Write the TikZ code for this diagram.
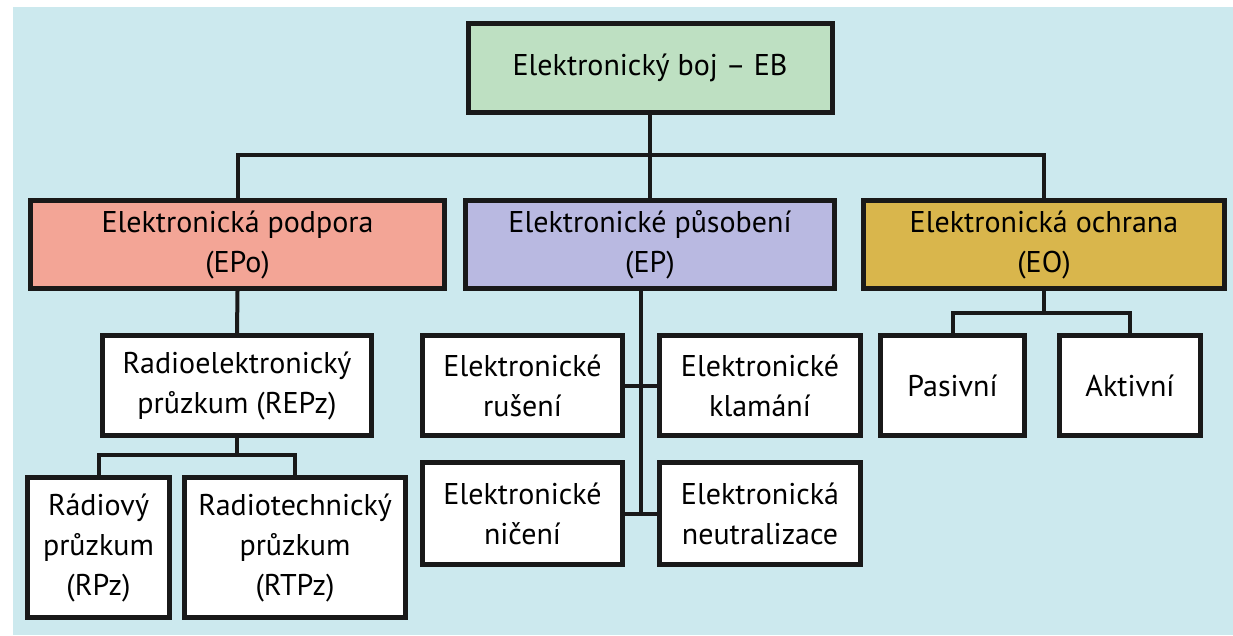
\documentclass[tikz,border=0pt]{standalone}
\usepackage{fontspec}
\setmainfont{PT Sans}
\usepackage{xcolor}
\usepackage{tikz}
\usetikzlibrary{calc}

\definecolor{bgblue}{HTML}{CCE9EE}
\definecolor{ebgreen}{HTML}{BEE0C2}
\definecolor{eposalmon}{HTML}{F3A596}
\definecolor{eplav}{HTML}{B9B9E1}
\definecolor{eogold}{HTML}{D9B64C}

\tikzset{
	box/.style={draw=black!90, line width=5pt, fill=white, align=center,
		inner sep=0pt, font=\fontsize{30}{40}\selectfont},
	link/.style={draw=black!90, line width=4pt}
}

\begin{document}
\begin{tikzpicture}[x=1pt,y=-1pt]
	 \useasboundingbox (0,0) rectangle (1233,635);
	 \fill[bgblue] (13,7) rectangle (1233,635);
	 % top
	 \node (eb) [box, fill=ebgreen, minimum width=364pt, minimum height=89pt] at (650,68) {Elektronický boj -- EB};
	 % second row
	 \node (epo) [box, fill=eposalmon, minimum width=414pt, minimum height=88pt] at (237.5,244.5) {Elektronická podpora\\(EPo)};
	 \node (ep) [box, fill=eplav, minimum width=369pt, minimum height=88pt] at (650,244.5) {Elektronické působení\\(EP)};
	 \node (eo) [box, fill=eogold, minimum width=361pt, minimum height=88pt] at (1044,244.5) {Elektronická ochrana\\(EO)};
	 % EPo branch
	 \node (repz) [box, minimum width=269pt, minimum height=100pt] at (237,385.5) {Radioelektronický\\průzkum (REPz)};
	 \node (rpz) [box, minimum width=142pt, minimum height=140pt] at (98.5,547.5) {Rádiový\\průzkum\\(RPz)};
	 \node (rtpz) [box, minimum width=221pt, minimum height=140pt] at (295,547.5) {Radiotechnický\\průzkum\\(RTPz)};
	 % EP branch
	 \node (rus) [box, minimum width=200pt, minimum height=100pt] at (522.5,385.5) {Elektronické\\rušení};
	 \node (klam) [box, minimum width=201pt, minimum height=100pt] at (760,385.5) {Elektronické\\klamání};
	 \node (nic) [box, minimum width=200pt, minimum height=102pt] at (522.5,513.5) {Elektronické\\ničení};
	 \node (neut) [box, minimum width=201pt, minimum height=102pt] at (760,513.5) {Elektronická\\neutralizace};
	 % EO branch
	 \node (pas) [box, minimum width=144pt, minimum height=100pt] at (952.5,385.5) {Pasivní};
	 \node (akt) [box, minimum width=141pt, minimum height=100pt] at (1130,385.5) {Aktivní};
	 % connectors
	 \coordinate (bus) at (650,155);
	 \coordinate (repsplit) at (237,455);
	 \coordinate (eosplit) at (1044,313);
	 \draw[link] (eb.south) -- (ep.north);
	 \draw[link] (epo.north) |- (bus) -| (eo.north);
	 \draw[link] (epo.south) -- (repz.north);
	 \draw[link] (repz.south) -- (repsplit);
	 \draw[link] (rpz.north) |- (repsplit) -| (rtpz.north);
	 \draw[link] (rus.east) -- (klam.west) coordinate[midway] (rk);
	 \draw[link] (nic.east) -- (neut.west) coordinate[midway] (nn);
	 \draw[link] (ep.south -| rk) -- (nn);
	 \draw[link] (eo.south) -- (eosplit);
	 \draw[link] (pas.north) |- (eosplit) -| (akt.north);
\end{tikzpicture}
\end{document}
